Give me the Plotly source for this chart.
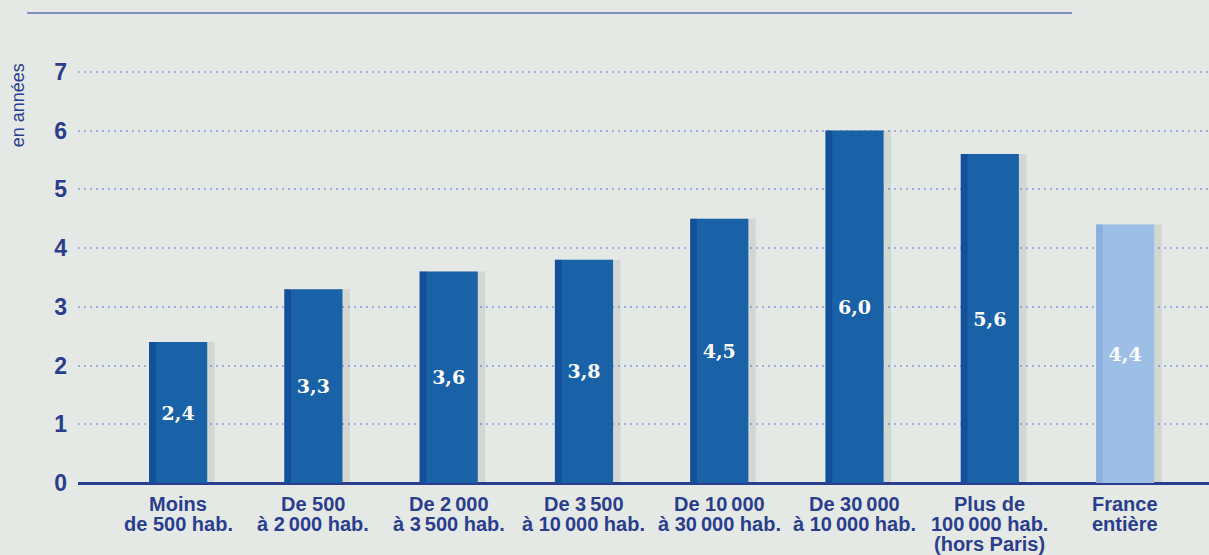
import plotly.graph_objects as go

nb = "\u202f"
categories = [
    "Moins<br>de 500 hab.",
    "De 500<br>à 2" + nb + "000 hab.",
    "De 2" + nb + "000<br>à 3" + nb + "500 hab.",
    "De 3" + nb + "500<br>à 10" + nb + "000 hab.",
    "De 10" + nb + "000<br>à 30" + nb + "000 hab.",
    "De 30" + nb + "000<br>à 10" + nb + "000 hab.",
    "Plus de<br>100" + nb + "000 hab.<br>(hors Paris)",
    "France<br>entière",
]
values = [2.4, 3.3, 3.6, 3.8, 4.5, 6.0, 5.6, 4.4]
labels = ["2,4", "3,3", "3,6", "3,8", "4,5", "6,0", "5,6", "4,4"]
colors = ["#1a62a8"] * 7 + ["#9cbee7"]
edge_colors = ["rgba(10,50,125,0.35)"] * 7 + ["rgba(90,130,205,0.25)"]

txt = "#2b3e8d"
bg = "#e4e9e6"

fig = go.Figure()

# ombre portée légère
fig.add_trace(go.Bar(
    x=categories, y=values, width=0.47, offset=-0.2,
    marker=dict(color="rgba(60,60,60,0.10)", line=dict(width=0)),
    hoverinfo="skip", showlegend=False,
))
fig.add_trace(go.Bar(
    x=categories, y=values, width=0.43, offset=-0.215,
    marker=dict(color=colors, line=dict(width=0)),
    text=labels, textposition="inside", insidetextanchor="middle",
    textangle=0,
    textfont=dict(family="DejaVu Serif", size=19, color="white", weight="bold"),
    showlegend=False,
))
# bord gauche plus foncé (effet de dégradé)
fig.add_trace(go.Bar(
    x=categories, y=values, width=0.05, offset=-0.215,
    marker=dict(color=edge_colors, line=dict(width=0)),
    hoverinfo="skip", showlegend=False,
))

# libellés de l'axe x, interligne serré
annots = []
for cat in categories:
    for i, line in enumerate(cat.split("<br>")):
        annots.append(dict(
            text=line, x=cat, y=0, xref="x", yref="y",
            yanchor="middle", yshift=-(21 + 20 * i), showarrow=False,
            font=dict(size=20, color=txt, weight="bold"),
        ))

annots.append(dict(
    text="en années", xref="paper", yref="paper",
    x=-0.053, y=0.906, textangle=-90, showarrow=False,
    font=dict(size=18, color=txt), xanchor="center", yanchor="middle",
))

fig.update_layout(
    width=1209, height=555,
    paper_bgcolor=bg, plot_bgcolor=bg,
    margin=dict(l=78, r=0, t=66, b=72),
    barmode="overlay",
    font=dict(family="Liberation Sans, Arial", color=txt),
    xaxis=dict(
        range=[-0.74, 7.62], showgrid=False, zeroline=False,
        ticks="", showticklabels=False,
    ),
    yaxis=dict(
        range=[0, 7.1], dtick=1, showgrid=True,
        gridcolor="#9db0e0", griddash="2px,4px", gridwidth=2,
        zeroline=True, zerolinecolor="#2b3d8f", zerolinewidth=3,
        ticks="", ticklabelstandoff=10,
        tickfont=dict(size=23, color=txt, weight="bold"),
    ),
    shapes=[dict(
        type="line", xref="paper", yref="paper",
        x0=-0.045, x1=0.879, y0=1.127, y1=1.127,
        line=dict(color="#7d90bf", width=2),
    )],
    annotations=annots,
)

fig.write_html("out.html", config={"displayModeBar": False},
               post_script="document.body.style.margin='0';")
